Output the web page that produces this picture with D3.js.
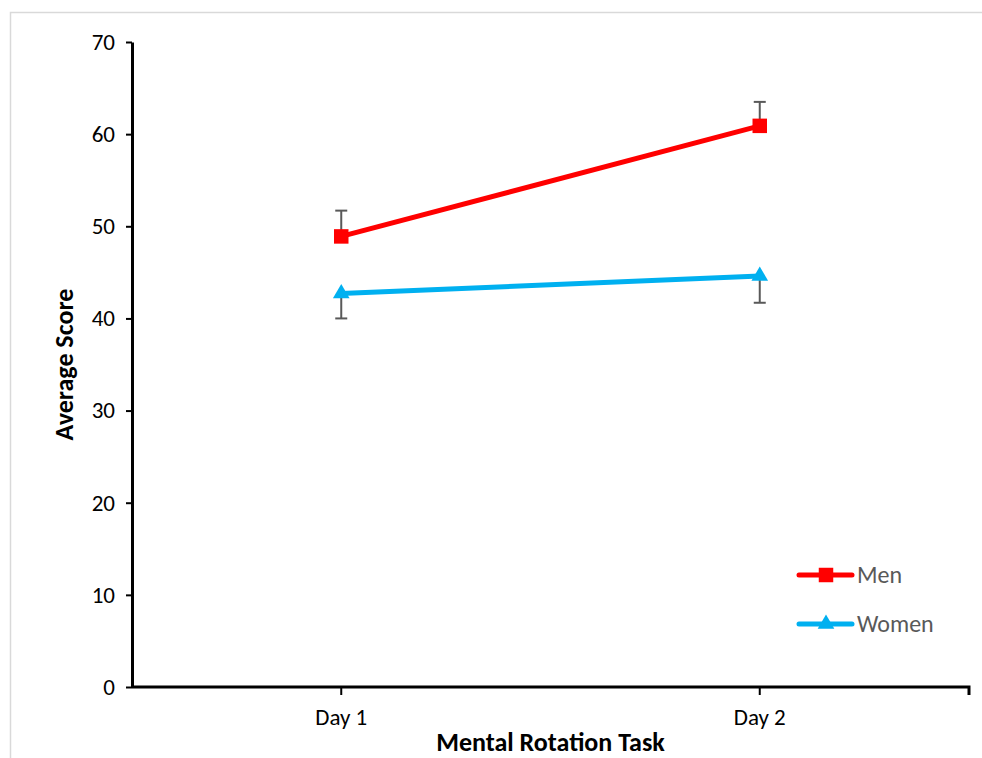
<!DOCTYPE html>
<html>
<head>
<meta charset="utf-8">
<script src="https://cdn.jsdelivr.net/npm/d3@7"></script>
<style>
  html, body { margin: 0; padding: 0; background: #fff; }
  svg { display: block; font-family: Carlito, Lato, "Open Sans", "Noto Sans", sans-serif; }
</style>
</head>
<body>
<svg id="chart" width="982" height="758"></svg>
<script>
// Mental rotation task scores by day
const days = ["Day 1", "Day 2"];
const menScores = [48.9, 60.9];
const womenScores = [42.7, 44.6];
const menErrUp = [2.8, 2.6];       // error shown above the men's points
const womenErrDown = [2.7, 2.9];   // error shown below the women's points
const yTicks = [0, 10, 20, 30, 40, 50, 60, 70];
const seriesNames = ["Men", "Women"];

const svg = d3.select("#chart");
const W = 982, H = 758;
const margin = { left: 132, right: 13, top: 42, bottom: 71 };

// frame around the chart area
svg.append("rect")
  .attr("x", 10.5).attr("y", 12.5)
  .attr("width", W + 10).attr("height", H + 10)
  .attr("fill", "none").attr("stroke", "#d9d9d9").attr("stroke-width", 1.5);

const x = d3.scaleBand().domain(days).range([margin.left, W - margin.right]);
const y = d3.scaleLinear().domain([0, 70]).range([H - margin.bottom, margin.top]);
const cx = d => x(d) + x.bandwidth() / 2;

// y axis
const yAxis = svg.append("g")
  .attr("transform", `translate(${margin.left},0)`)
  .call(d3.axisLeft(y).tickValues(yTicks).tickSize(6).tickPadding(11).tickSizeOuter(0));
yAxis.attr("font-family", null).attr("font-size", null);
yAxis.select(".domain").attr("stroke", "#000").attr("stroke-width", 3);
yAxis.selectAll(".tick line").attr("stroke", "#000").attr("stroke-width", 2);
yAxis.selectAll(".tick text").style("font-size", "23px").attr("fill", "#000");

// x axis
const xAxis = svg.append("g")
  .attr("transform", `translate(0,${y(0)})`)
  .call(d3.axisBottom(x).tickSize(8).tickPadding(14).tickSizeOuter(8));
xAxis.attr("font-family", null).attr("font-size", null);
xAxis.select(".domain").attr("stroke", "#000").attr("stroke-width", 3);
xAxis.selectAll(".tick line").attr("stroke", "#000").attr("stroke-width", 2);
xAxis.selectAll(".tick text").style("font-size", "23px").attr("fill", "#000");
// only the right outer tick is drawn; the left one sits under the y axis
xAxis.select(".domain").attr("d", `M${margin.left},0H${W - margin.right}V8`);

// axis titles
svg.append("text")
  .attr("transform", `translate(73,${(y(0) + y(70)) / 2}) rotate(-90)`)
  .attr("text-anchor", "middle")
  .attr("font-size", 26).attr("font-weight", "bold").attr("fill", "#000")
  .text("Average Score");
svg.append("text")
  .attr("x", (margin.left + W - margin.right) / 2).attr("y", 751)
  .attr("text-anchor", "middle")
  .attr("font-size", 26).attr("font-weight", "bold").attr("fill", "#000")
  .text("Mental Rotation Task");

const errColor = "#595959";
function errBar(xv, y0, y1) {
  svg.append("line").attr("x1", xv).attr("x2", xv).attr("y1", y(y0)).attr("y2", y(y1))
    .attr("stroke", errColor).attr("stroke-width", 2);
  svg.append("line").attr("x1", xv - 6).attr("x2", xv + 6).attr("y1", y(y1)).attr("y2", y(y1))
    .attr("stroke", errColor).attr("stroke-width", 2);
}
days.forEach((d, i) => {
  errBar(cx(d), menScores[i], menScores[i] + menErrUp[i]);
  errBar(cx(d), womenScores[i], womenScores[i] - womenErrDown[i]);
});

const line = d3.line().x((v, i) => cx(days[i])).y(v => y(v));
const red = "#ff0000", blue = "#00b0f0";

svg.append("path").datum(womenScores).attr("d", line)
  .attr("fill", "none").attr("stroke", blue).attr("stroke-width", 5);
svg.append("path").datum(menScores).attr("d", line)
  .attr("fill", "none").attr("stroke", red).attr("stroke-width", 5);

const sq = d3.symbol().type(d3.symbolSquare).size(210);
const tri = d3.symbol().type(d3.symbolTriangle).size(120);

svg.selectAll(".men-pt").data(menScores).join("path")
  .attr("transform", (v, i) => `translate(${cx(days[i])},${y(v)})`)
  .attr("d", sq).attr("fill", red);
svg.selectAll(".women-pt").data(womenScores).join("path")
  .attr("transform", (v, i) => `translate(${cx(days[i])},${y(v)})`)
  .attr("d", tri).attr("fill", blue);

// legend
const legend = [
  { name: seriesNames[0], color: red, sym: sq, y: 575 },
  { name: seriesNames[1], color: blue, sym: tri, y: 624 }
];
legend.forEach(l => {
  svg.append("line").attr("x1", 799).attr("x2", 852).attr("y1", l.y).attr("y2", l.y)
    .attr("stroke", l.color).attr("stroke-width", 5).attr("stroke-linecap", "round");
  svg.append("path").attr("transform", `translate(826,${l.y})`).attr("d", l.sym).attr("fill", l.color);
  svg.append("text").attr("x", 857).attr("y", l.y + 8)
    .attr("font-size", 24).attr("fill", "#595959").text(l.name);
});
</script>
</body>
</html>
